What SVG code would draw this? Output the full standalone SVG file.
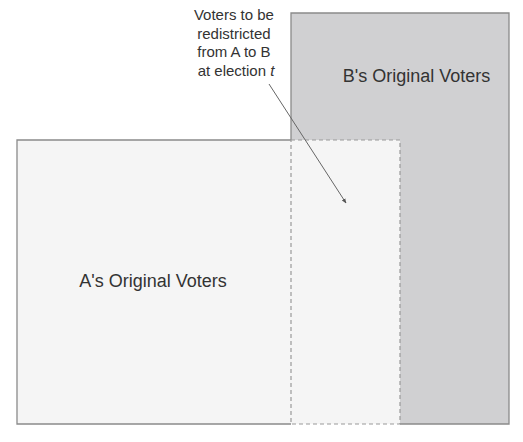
<svg xmlns="http://www.w3.org/2000/svg" width="523" height="442" viewBox="0 0 523 442">
<style>
.lbl{font-family:"Liberation Sans",Arial,sans-serif;fill:#333;}
.solid{stroke:#8a8a8a;stroke-width:1.3;fill:none;}
.dash{stroke:#9a9a9a;stroke-width:1.2;fill:none;stroke-dasharray:4 3;}
</style>
<defs>
<marker id="ah" viewBox="0 0 10 10" refX="9" refY="5" markerWidth="5" markerHeight="5" orient="auto">
<path d="M0,1 L10,5 L0,9 z" fill="#555"/>
</marker>
</defs>
<rect width="523" height="442" fill="#fff"/>
<g id="nodeB">
<rect x="291" y="13" width="218" height="411" fill="#d0d0d2"/>
<path class="solid" d="M291,140 V13 H509 V424 H400"/>
<text class="lbl" x="416.5" y="82" font-size="18" text-anchor="middle">B's Original Voters</text>
</g>
<g id="nodeA">
<rect x="17" y="140" width="383" height="284" fill="#f5f5f5"/>
<path class="solid" d="M291,140 H17 V424 H291"/>
<text class="lbl" x="153" y="287" font-size="18" text-anchor="middle">A's Original Voters</text>
</g>
<g id="nodeShift">
<path class="dash" d="M291,140 H400 V424 H291 Z"/>
</g>
<g id="label">
<text class="lbl" font-size="15" text-anchor="middle">
<tspan x="236" y="20">Voters to be</tspan>
<tspan x="236" y="38.7">redistricted</tspan>
<tspan x="236" y="57.3">from A to B</tspan>
<tspan x="236" y="76">at election <tspan font-style="italic">t</tspan></tspan>
</text>
</g>
<g id="connectors">
<line x1="269" y1="84" x2="346" y2="203" stroke="#666" stroke-width="1" marker-end="url(#ah)"/>
</g>
</svg>
